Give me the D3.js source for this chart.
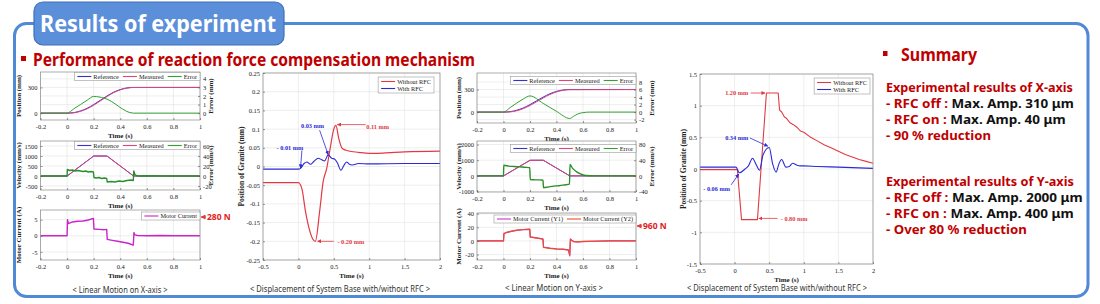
<!DOCTYPE html>
<html>
<head>
<meta charset="utf-8">
<script src="https://cdn.jsdelivr.net/npm/d3@7"></script>
<style>
  body { margin: 0; background: #fff; }
  svg text { font-family: "Liberation Serif", serif; }
</style>
</head>
<body>
<script>
// ---------- X-axis linear motion ----------
const xMotionT = [-0.2, 0, 0.05, 0.1, 0.15, 0.2, 0.25, 0.3, 0.35, 0.4, 0.45, 0.5, 1.0];
const xRefPos  = [0, 0, 6, 25, 56, 100, 150, 200, 244, 275, 294, 300, 300];
const xMeasPos = [0, 0, 4, 21, 50, 92, 142, 193, 239, 272, 292, 299, 300];
const xPosErrT = [-0.2, 0, 0.05, 0.1, 0.15, 0.2, 0.28, 0.5, 1.0];
const xPosErr  = [0, 0, 0.5, 1.0, 1.5, 1.95, 1.75, 0, 0];
const xVelT    = [-0.2, 0, 0.2, 0.3, 0.5, 1.0];
const xRefVel  = [0, 0, 1000, 1000, 0, 0];
const xMeasVel = [0, 0, 995, 1000, 4, 0];
const xVelErrT = [-0.2, 0, 0.002, 0.02, 0.04, 0.06, 0.08, 0.1, 0.12, 0.14, 0.16, 0.18, 0.198,
                  0.202, 0.22, 0.24, 0.26, 0.28, 0.298, 0.302, 0.33, 0.36, 0.39, 0.42, 0.45, 0.48, 0.498,
                  0.502, 0.51, 0.52, 0.54, 0.6, 0.7, 0.8, 0.9, 1.0];
const xVelErr  = [0, 0, 13, 11, 12, 10, 11, 10, 9, 10, 8, 9, 8,
                  -3, -4, -3, -5, -4, -5, -12, -11, -12, -10, -11, -9, -8, -9,
                  10, 3, 1, 0, 0.4, 0, 0.3, 0, 0];
const xCurT = [-0.2, 0, 0.003, 0.01, 0.04, 0.08, 0.12, 0.16, 0.198, 0.202, 0.24, 0.28, 0.298, 0.302,
               0.34, 0.38, 0.42, 0.46, 0.497, 0.5, 0.503, 0.51, 0.53, 0.6, 0.7, 0.8, 0.9, 1.0];
const xCur  = [0, 0, 5, 3.8, 4.3, 4.5, 4.6, 4.9, 5.4, 2.1, 2.0, 1.9, 2.0, -1.1,
               -1.4, -1.7, -2.0, -2.3, -2.9, -1.6, 1.0, 0.3, 0.1, 0, 0.1, 0, 0, 0];

// ---------- Y-axis linear motion ----------
const yMotionT = [-0.2, 0, 0.05, 0.1, 0.15, 0.2, 0.25, 0.3, 0.35, 0.4, 0.45, 0.5, 1.0];
const yRefPos  = [0, 0, 6, 25, 56, 100, 150, 200, 244, 275, 294, 300, 300];
const yMeasPos = [0, 0, 3, 18, 46, 88, 137, 188, 234, 268, 290, 298, 300];
const yPosErrT = [-0.2, 0, 0.05, 0.1, 0.15, 0.2, 0.3, 0.4, 0.5, 0.53, 0.56, 0.6, 0.65, 1.0];
const yPosErr  = [0, 0, 1.2, 2.4, 3.5, 4.3, 2.3, 0.2, -1.7, -1.1, -0.5, -0.15, 0, 0];
const yVelT    = [-0.2, 0, 0.2, 0.3, 0.5, 1.0];
const yRefVel  = [0, 0, 1000, 1000, 0, 0];
const yMeasVel = [0, 0, 990, 1000, 6, 0];
const yVelErrT = [-0.2, 0, 0.002, 0.04, 0.08, 0.12, 0.16, 0.198, 0.202, 0.24, 0.27, 0.298, 0.302,
                  0.34, 0.38, 0.42, 0.46, 0.498, 0.502, 0.52, 0.55, 0.58, 0.62, 0.7, 1.0];
const yVelErr  = [0, 0, 27, 25, 24, 23, 22, 21, -9, -10, -10, -11, -30,
                  -28, -26, -25, -23, -21, 29, 20, 11, 5, 1, 0, 0];
const yCurT  = [-0.2, 0, 0.003, 0.02, 0.06, 0.1, 0.15, 0.198, 0.202, 0.25, 0.298, 0.302, 0.35,
                0.4, 0.45, 0.49, 0.5, 0.505, 0.515, 0.53, 0.56, 0.6, 0.7, 0.8, 1.0];
const yCurY1 = [0, 0, 11, 12, 14, 15.5, 16.5, 17, 6, 4.5, 3, -9, -10.5,
                -11.5, -12, -13, -22, 3, 1, -1, -1.5, -1, -0.5, 0, 0];
const yCurY2 = [0, 0, 10, 12.5, 14.5, 15.8, 16.8, 17.5, 5.5, 4, 2.5, -9.5, -11,
                -12, -12.5, -13.5, -20, 2, 0.5, -1.2, -1.3, -0.8, -0.3, 0, 0];

// ---------- displacement of system base (X) ----------
const dispXT   = [-0.5, 0, 0.05, 0.1, 0.15, 0.2, 0.24, 0.3, 0.35, 0.4, 0.45, 0.5, 0.53, 0.57, 0.62, 0.7, 0.85, 1.0, 1.2, 1.5, 2.0];
const dispXOff = [-0.043, -0.043, -0.06, -0.12, -0.165, -0.193, -0.2, -0.12, -0.04, -0.005, 0.05, 0.1, 0.11, 0.075, 0.048, 0.042, 0.038, 0.035, 0.036, 0.039, 0.041];
const dispXOnT = [-0.5, 0, 0.03, 0.08, 0.12, 0.17, 0.22, 0.28, 0.33, 0.37, 0.42, 0.47, 0.51, 0.55, 0.6, 0.64, 0.68, 0.72, 0.76, 0.85, 1.0, 1.5, 2.0];
const dispXOn  = [-0.007, -0.007, -0.005, 0.008, 0.012, 0.006, 0.014, 0.022, 0.018, 0.015, 0.031, 0.022, 0.02, 0.01, -0.01, 0.002, 0.012, 0.006, 0.004, 0.008, 0.007, 0.008, 0.008];

// ---------- displacement of system base (Y) ----------
const dispYOffT = [-0.5, 0.04, 0.07, 0.1, 0.33, 0.46, 0.63, 0.65, 0.68, 0.72, 0.75, 0.8, 0.85, 0.9, 0.95, 1.0, 1.1, 1.2, 1.3, 1.4, 1.5, 1.6, 1.7, 1.8, 1.9, 2.0];
const dispYOff  = [-0.01, -0.01, -0.4, -0.8, -0.8, 1.2, 1.2, 0.93, 0.9, 0.82, 0.8, 0.73, 0.7, 0.66, 0.6, 0.58, 0.5, 0.44, 0.38, 0.33, 0.28, 0.23, 0.19, 0.15, 0.12, 0.09];
const dispYOnT  = [-0.5, 0.02, 0.07, 0.15, 0.2, 0.26, 0.29, 0.32, 0.36, 0.41, 0.5, 0.55, 0.6, 0.64, 0.68, 0.74, 0.79, 0.84, 0.9, 0.95, 1.0, 1.2, 1.5, 2.0];
const dispYOn   = [0.03, 0.03, -0.06, 0.0, 0.05, 0.17, 0.12, 0.05, -0.02, 0.22, 0.34, 0.08, -0.05, 0.08, 0.15, 0.03, 0.04, 0.09, 0.06, 0.05, 0.05, 0.04, 0.03, 0.01];

// ---------- ticks ----------
const motionTicks = [-0.2, 0, 0.2, 0.4, 0.6, 0.8, 1];
const dispTicks = [-0.5, 0, 0.5, 1, 1.5, 2];
const dispXYTicks = [-0.25, -0.2, -0.15, -0.1, -0.05, 0, 0.05, 0.1, 0.15, 0.2, 0.25];
const dispYYTicks = [-1.5, -1, -0.5, 0, 0.5, 1, 1.5];

// ---------- summary text ----------
const summaryX = [
  [["Experimental results of X-axis", "#c00000"]],
  [["- RFC off : ", "#c00000"], ["Max. Amp. 310 \u03bcm", "#111"]],
  [["- RFC on : ", "#c00000"], ["Max. Amp. 40 \u03bcm", "#111"]],
  [["- 90 % reduction", "#c00000"]]
];
const summaryY = [
  [["Experimental results of Y-axis", "#c00000"]],
  [["- RFC off : ", "#c00000"], ["Max. Amp. 2000 \u03bcm", "#111"]],
  [["- RFC on : ", "#c00000"], ["Max. Amp. 400 \u03bcm", "#111"]],
  [["- Over 80 % reduction", "#c00000"]]
];

const cRef = "#3333cc", cMeas = "#dd4477", cErr = "#34a034";
const cOff = "#e23a44", cOn = "#2a2ad6";

const svg = d3.select("body").append("svg").attr("width", 1100).attr("height", 304);
const defs = svg.append("defs");

function marker(id, color) {
  defs.append("marker").attr("id", id).attr("viewBox", "0 0 10 10")
    .attr("refX", 9).attr("refY", 5).attr("markerWidth", 5).attr("markerHeight", 5)
    .attr("orient", "auto")
    .append("path").attr("d", "M0,0L10,5L0,10z").attr("fill", color);
}
marker("arR", cOff);
marker("arB", cOn);

// frame + title tab
svg.append("rect").attr("x", 14.5).attr("y", 23.5).attr("width", 1073.5).attr("height", 273)
  .attr("rx", 12).attr("fill", "none").attr("stroke", "#5089d6").attr("stroke-width", 3);
svg.append("rect").attr("x", 34).attr("y", 2).attr("width", 250).attr("height", 43).attr("rx", 9)
  .attr("fill", "#5b8fda").attr("stroke", "#3e70ba").attr("stroke-width", 1.2);
svg.append("text").attr("x", 40).attr("y", 32).text("Results of experiment")
  .style("font-family", "'Noto Sans', sans-serif").attr("font-weight", "bold").attr("font-size", 23)
  .attr("fill", "#fff").attr("textLength", 236).attr("lengthAdjust", "spacingAndGlyphs");

// headings
svg.append("rect").attr("x", 21).attr("y", 56).attr("width", 5).attr("height", 5).attr("fill", "#c00000");
svg.append("text").attr("x", 33).attr("y", 65.5).text("Performance of reaction force compensation mechanism")
  .style("font-family", "'Noto Sans', sans-serif").attr("font-weight", "bold").attr("font-size", 17)
  .attr("fill", "#c00000").attr("textLength", 442).attr("lengthAdjust", "spacingAndGlyphs");
svg.append("rect").attr("x", 883).attr("y", 51).attr("width", 4.5).attr("height", 5).attr("fill", "#c00000");
svg.append("text").attr("x", 901).attr("y", 61).text("Summary")
  .style("font-family", "'Noto Sans', sans-serif").attr("font-weight", "bold").attr("font-size", 17)
  .attr("fill", "#c00000").attr("textLength", 76).attr("lengthAdjust", "spacingAndGlyphs");

// each summary line is squeezed horizontally to the width it has in the slide
function summary(lines, baselines, widths) {
  lines.forEach((parts, i) => {
    const t = svg.append("text").attr("x", 0).attr("y", 0)
      .style("font-family", "'Noto Sans', sans-serif").attr("font-weight", "bold").attr("font-size", 12.5);
    parts.forEach(([s, c]) => t.append("tspan").attr("fill", c).text(s));
    const k = widths[i] / t.node().getComputedTextLength();
    t.attr("transform", `translate(886,${baselines[i]}) scale(${k},1)`);
  });
}
summary(summaryX, [92, 108, 124, 140], [187, 188, 180, 105]);
summary(summaryY, [186, 202, 218, 234], [188, 197, 188, 141]);

let clipN = 0;
function panel(o) {
  const g = svg.append("g");
  const x = d3.scaleLinear().domain(o.xDomain).range([o.left, o.right]);
  const y = d3.scaleLinear().domain(o.yDomain).range([o.bottom, o.top]);
  const y2 = o.y2Domain ? d3.scaleLinear().domain(o.y2Domain).range([o.bottom, o.top]) : null;
  const w = o.right - o.left, h = o.bottom - o.top;
  const fmt = d => String(d);

  g.append("rect").attr("x", o.left).attr("y", o.top).attr("width", w).attr("height", h).attr("fill", "#fff");
  const grid = g.append("g").attr("stroke", "#e2e2e2").attr("stroke-width", 0.6);
  grid.selectAll("line.gx").data(o.xTicks).join("line").attr("class", "gx")
    .attr("x1", x).attr("x2", x).attr("y1", o.top).attr("y2", o.bottom);
  const gy = y2 ? o.y2Ticks.map(y2) : o.yTicks.map(y);
  grid.selectAll("line.gy").data(gy).join("line").attr("class", "gy")
    .attr("x1", o.left).attr("x2", o.right).attr("y1", d => d).attr("y2", d => d);

  const clipId = "clip" + (clipN++);
  defs.append("clipPath").attr("id", clipId).append("rect")
    .attr("x", o.left).attr("y", o.top).attr("width", w).attr("height", h);
  const plot = g.append("g").attr("clip-path", `url(#${clipId})`);
  o.series.forEach(s => {
    const sc = s.right ? y2 : y;
    const line = d3.line().x(d => x(d[0])).y(d => sc(d[1]))
      .curve(s.smooth ? d3.curveMonotoneX : d3.curveLinear);
    plot.append("path").datum(d3.zip(s.t, s.v)).attr("d", line)
      .attr("fill", "none").attr("stroke", s.color).attr("stroke-width", s.width || 1)
      .attr("stroke-linejoin", "round");
  });

  g.append("rect").attr("x", o.left).attr("y", o.top).attr("width", w).attr("height", h)
    .attr("fill", "none").attr("stroke", "#8a8a8a").attr("stroke-width", 0.7);

  const styleAxis = s => {
    s.select(".domain").remove();
    s.selectAll(".tick line").attr("stroke", "#555").attr("stroke-width", 0.6);
    s.selectAll("text").attr("fill", "#222").attr("font-size", 6.5)
      .style("font-family", "'Liberation Serif', serif");
  };
  g.append("g").attr("transform", `translate(0,${o.bottom})`)
    .call(d3.axisBottom(x).tickValues(o.xTicks).tickFormat(fmt).tickSizeInner(-2).tickSizeOuter(0).tickPadding(4))
    .call(styleAxis);
  g.append("g").attr("transform", `translate(${o.left},0)`)
    .call(d3.axisLeft(y).tickValues(o.yTicks).tickFormat(fmt).tickSizeInner(-2).tickSizeOuter(0).tickPadding(3))
    .call(styleAxis);
  if (y2) {
    g.append("g").attr("transform", `translate(${o.right},0)`)
      .call(d3.axisRight(y2).tickValues(o.y2Ticks).tickFormat(fmt).tickSizeInner(-2).tickSizeOuter(0).tickPadding(3))
      .call(styleAxis);
  }

  // axis titles
  g.append("text").attr("x", (o.left + o.right) / 2).attr("y", o.bottom + 17.5)
    .attr("text-anchor", "middle").attr("font-size", 7).attr("font-weight", "bold").attr("fill", "#222")
    .text("Time (s)");
  const rot = (tx, label, fs) => g.append("text")
    .attr("transform", `translate(${tx},${(o.top + o.bottom) / 2}) rotate(-90)`)
    .attr("text-anchor", "middle").attr("dominant-baseline", "central")
    .attr("font-size", fs).attr("font-weight", "bold").attr("fill", "#222").text(label);
  rot(o.yLabelX, o.yLabel, o.labelSize || 7);
  if (o.y2Label) rot(o.y2LabelX, o.y2Label, o.labelSize || 7);

  // legend
  if (o.legend) {
    const L = 14, fs = 6.3;
    const lg = g.append("g");
    const box = lg.append("rect").attr("fill", "#fff").attr("stroke", "#999").attr("stroke-width", 0.6);
    let cx = 3, maxW = 0;
    o.legend.forEach((it, i) => {
      const ly = o.legendRows ? 4.5 + i * 7 : 4;
      const lx = o.legendRows ? 3 : cx;
      lg.append("line").attr("x1", lx).attr("x2", lx + L).attr("y1", ly).attr("y2", ly)
        .attr("stroke", it.color).attr("stroke-width", 1.1);
      const t = lg.append("text").attr("x", lx + L + 2).attr("y", ly).attr("dy", "0.33em")
        .attr("font-size", fs).attr("fill", "#222").text(it.name);
      cx = lx + L + 2 + t.node().getComputedTextLength() + 4;
      maxW = Math.max(maxW, cx);
    });
    const bw = maxW - 1;
    const bh = o.legendRows ? 7 * o.legend.length + 2 : 8;
    box.attr("width", bw).attr("height", bh);
    lg.attr("transform", `translate(${o.right - bw - o.legendInset[0]},${o.top + o.legendInset[1]})`);
  }

  // annotations (data coordinates)
  (o.notes || []).forEach(n => {
    const col = n.blue ? cOn : cOff;
    g.append("line").attr("x1", x(n.from[0])).attr("y1", y(n.from[1]))
      .attr("x2", x(n.to[0])).attr("y2", y(n.to[1]))
      .attr("stroke", col).attr("stroke-width", 0.8)
      .attr("marker-end", `url(#${n.blue ? "arB" : "arR"})`);
    g.append("text").attr("x", x(n.at[0])).attr("y", y(n.at[1])).attr("dy", "0.35em")
      .attr("text-anchor", "middle").attr("font-size", 6.3).attr("font-weight", "bold")
      .attr("fill", col).text(n.text);
  });

  // force label beside current plot
  if (o.force) {
    const fy = o.top + o.force.dy;
    g.append("line").attr("x1", o.right + 6).attr("x2", o.right + 1).attr("y1", fy).attr("y2", fy)
      .attr("stroke", "#e02020").attr("stroke-width", 1).attr("marker-end", "url(#arR)");
    g.append("text").attr("x", o.right + 7).attr("y", fy).attr("dy", "0.35em")
      .style("font-family", "'Noto Sans', sans-serif").attr("font-weight", "bold")
      .attr("font-size", 8.5).attr("fill", "#e02020").text(o.force.text);
  }
}

function caption(text, cx, by, width) {
  svg.append("text").attr("x", cx).attr("y", by).attr("text-anchor", "middle")
    .style("font-family", "'Noto Sans', sans-serif").attr("font-size", 8.5).attr("fill", "#333")
    .attr("textLength", width).attr("lengthAdjust", "spacingAndGlyphs").text(text);
}

const motionLegend = [{ name: "Reference", color: cRef }, { name: "Measured", color: cMeas }, { name: "Error", color: cErr }];
const rfcLegend = [{ name: "Without RFC", color: cOff }, { name: "With RFC", color: cOn }];

// ---- column 1: X-axis ----
panel({
  left: 40.5, right: 200, top: 72, bottom: 120, xDomain: [-0.2, 1], xTicks: motionTicks,
  yDomain: [-80, 480], yTicks: [0, 300], y2Domain: [-0.8, 4.8], y2Ticks: [0, 1, 2, 3, 4],
  yLabel: "Position (mm)", yLabelX: 19, y2Label: "Error (mm)", y2LabelX: 211,
  legend: motionLegend, legendInset: [0, 0.5],
  series: [
    { t: xMotionT, v: xRefPos, color: cRef, smooth: true },
    { t: xMotionT, v: xMeasPos, color: cMeas, smooth: true },
    { t: xPosErrT, v: xPosErr, color: cErr, right: true, smooth: true }
  ]
});
panel({
  left: 40.5, right: 200, top: 141, bottom: 190, xDomain: [-0.2, 1], xTicks: motionTicks,
  yDomain: [-700, 1750], yTicks: [-500, 0, 500, 1000, 1500], y2Domain: [-28, 70], y2Ticks: [-20, 0, 20, 40, 60],
  yLabel: "Velocity (mm/s)", yLabelX: 19, y2Label: "Error (mm/s)", y2LabelX: 211,
  legend: motionLegend, legendInset: [0, 0.5],
  series: [
    { t: xVelT, v: xRefVel, color: cRef },
    { t: xVelT, v: xMeasVel, color: cMeas },
    { t: xVelErrT, v: xVelErr, color: "#2a8f2a", right: true, width: 1.4 }
  ]
});
panel({
  left: 40.5, right: 200, top: 210, bottom: 260, xDomain: [-0.2, 1], xTicks: motionTicks,
  yDomain: [-7.5, 8], yTicks: [-5, 0, 5],
  yLabel: "Motor Current (A)", yLabelX: 19,
  legend: [{ name: "Motor Current", color: "#cc22cc" }], legendInset: [0, 2],
  force: { text: "280 N", dy: 7 },
  series: [{ t: xCurT, v: xCur, color: "#cc22cc", width: 1.4 }]
});
caption("< Linear Motion on X-axis >", 120, 293, 95);

// ---- column 2: displacement X ----
panel({
  left: 263, right: 440, top: 73, bottom: 260, xDomain: [-0.5, 2], xTicks: dispTicks,
  yDomain: [-0.25, 0.25], yTicks: dispXYTicks,
  yLabel: "Position of Granite (mm)", yLabelX: 241, labelSize: 7.5,
  legend: rfcLegend, legendRows: true, legendInset: [6, 4],
  series: [
    { t: dispXT, v: dispXOff, color: cOff, smooth: true, width: 1.2 },
    { t: dispXOnT, v: dispXOn, color: cOn, smooth: true, width: 1.1 }
  ],
  notes: [
    { text: "0.03 mm", blue: true, at: [0.2, 0.11], from: [0.3, 0.097], to: [0.42, 0.032] },
    { text: "- 0.01 mm", blue: true, at: [-0.12, 0.05], from: [0.05, 0.043], to: [0.03, -0.004] },
    { text: "0.11 mm", at: [1.12, 0.107], from: [0.95, 0.112], to: [0.55, 0.112] },
    { text: "- 0.20 mm", at: [0.74, -0.2], from: [0.5, -0.2], to: [0.27, -0.2] }
  ]
});
caption("< Displacement of System Base with/without RFC >", 340, 292, 180);

// ---- column 3: Y-axis ----
panel({
  left: 477, right: 636, top: 73, bottom: 123, xDomain: [-0.2, 1], xTicks: motionTicks,
  yDomain: [-145, 520], yTicks: [0, 300], y2Domain: [-2.9, 10.4], y2Ticks: [-2, 0, 2, 4, 6, 8],
  yLabel: "Position (mm)", yLabelX: 459, y2Label: "Error (mm)", y2LabelX: 652,
  legend: motionLegend, legendInset: [0, 3.5],
  series: [
    { t: yMotionT, v: yRefPos, color: cRef, smooth: true },
    { t: yMotionT, v: yMeasPos, color: cMeas, smooth: true },
    { t: yPosErrT, v: yPosErr, color: cErr, right: true, smooth: true }
  ]
});
panel({
  left: 477, right: 636, top: 141, bottom: 192, xDomain: [-0.2, 1], xTicks: motionTicks,
  yDomain: [-1025, 2225], yTicks: [-1000, 0, 1000, 2000], y2Domain: [-41, 89], y2Ticks: [-40, 0, 40, 80],
  yLabel: "Velocity (mm/s)", yLabelX: 459, y2Label: "Error (mm/s)", y2LabelX: 652,
  legend: motionLegend, legendInset: [0, 3.5],
  series: [
    { t: yVelT, v: yRefVel, color: cRef },
    { t: yVelT, v: yMeasVel, color: cMeas },
    { t: yVelErrT, v: yVelErr, color: "#2a8f2a", right: true, width: 1.4, smooth: true }
  ]
});
panel({
  left: 477, right: 636, top: 213, bottom: 260, xDomain: [-0.2, 1], xTicks: motionTicks,
  yDomain: [-28, 41], yTicks: [-20, 0, 20, 40],
  yLabel: "Motor Current (A)", yLabelX: 459,
  legend: [{ name: "Motor Current (Y1)", color: "#cc33cc" }, { name: "Motor Current (Y2)", color: "#e8502a" }],
  legendInset: [0, 2],
  force: { text: "960 N", dy: 13 },
  series: [
    { t: yCurT, v: yCurY1, color: "#cc33cc", width: 1.2 },
    { t: yCurT, v: yCurY2, color: "#e8502a", width: 1.2 }
  ]
});
caption("< Linear Motion on Y-axis >", 554, 291, 98);

// ---- column 4: displacement Y ----
panel({
  left: 700, right: 873, top: 74, bottom: 264, xDomain: [-0.5, 2], xTicks: dispTicks,
  yDomain: [-1.5, 1.5], yTicks: dispYYTicks,
  yLabel: "Position of Granite (mm)", yLabelX: 683, labelSize: 7.5,
  legend: rfcLegend, legendRows: true, legendInset: [3, 4],
  series: [
    { t: dispYOffT, v: dispYOff, color: cOff, width: 1.1 },
    { t: dispYOnT, v: dispYOn, color: cOn, smooth: true, width: 1.1 }
  ],
  notes: [
    { text: "1.20 mm", at: [0.03, 1.2], from: [0.23, 1.2], to: [0.44, 1.2] },
    { text: "0.34 mm", blue: true, at: [0.03, 0.5], from: [0.22, 0.49], to: [0.48, 0.36] },
    { text: "- 0.06 mm", blue: true, at: [-0.26, -0.32], from: [-0.05, -0.25], to: [0.06, -0.08] },
    { text: "- 0.80 mm", at: [0.86, -0.78], from: [0.62, -0.78], to: [0.35, -0.78] }
  ]
});
caption("< Displacement of System Base with/without RFC >", 777, 291, 180);
</script>
</body>
</html>
